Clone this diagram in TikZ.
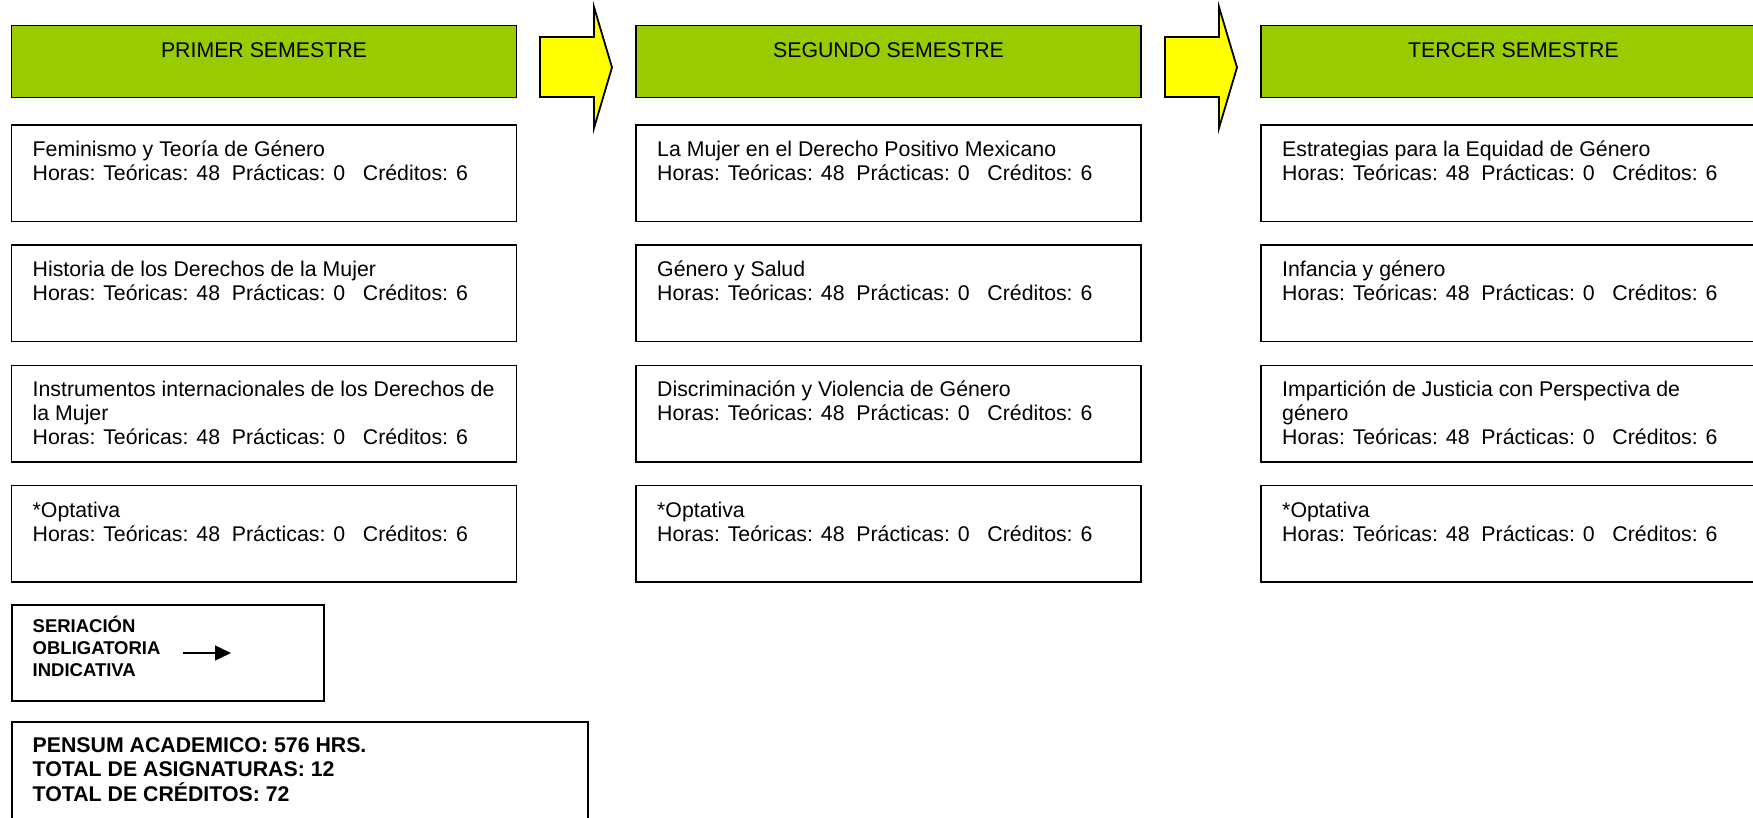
\documentclass[tikz,border=0pt]{standalone}
\usepackage{fontspec}
\setmainfont{Liberation Sans}
\usetikzlibrary{arrows.meta}
\definecolor{hdrgreen}{HTML}{99CC00}
\definecolor{arryellow}{HTML}{FFFF00}
\newcommand\rowsof[2]{\vtop{\baselineskip=#1\lineskiplimit=-30pt\halign{##\hfil\cr#2\crcr}}}
\newcommand\hrsline{Horas: Teóricas: 48\ \ Prácticas: 0\ \ \ Créditos: 6}
\begin{document}
\begin{tikzpicture}[x=1pt,y=-1pt,
  hdr/.style={draw=black, line width=1.8pt, fill=hdrgreen, minimum width=505pt, minimum height=72pt, anchor=north west, inner sep=0pt, outer sep=0pt},
  cbox/.style={draw=black, line width=1.8pt, fill=white, minimum width=505pt, minimum height=96.5pt, anchor=north west, inner sep=0pt, outer sep=0pt},
  ttl/.style={anchor=base, inner sep=0pt, font=\fontsize{21.3}{24}\selectfont},
  txt/.style={anchor=base west, inner sep=0pt, font=\fontsize{21.3}{24}\selectfont},
  legtxt/.style={anchor=base west, inner sep=0pt, font=\fontsize{18.5}{22}\selectfont\bfseries},
  sumtxt/.style={anchor=base west, inner sep=0pt, font=\fontsize{21.3}{24.5}\selectfont\bfseries},
  semarrow/.style={draw=black, line width=1.8pt, fill=arryellow, line join=miter},
  plainbox/.style={draw=black, line width=1.8pt, fill=white, anchor=north west, inner sep=0pt, outer sep=0pt}]
\useasboundingbox (0,0) rectangle (1753,818);
\clip (0,0) rectangle (1753,818);
\fill[white] (0,0) rectangle (1753,818);

% headers
\node[hdr] (h1) at (11.5,25.5) {};
\node[hdr] (h2) at (636,25.5) {};
\node[hdr] (h3) at (1261,25.5) {};
\node[ttl] (h1t) at (264,57.4) {PRIMER SEMESTRE};
\node[ttl] (h2t) at (888.5,57.4) {SEGUNDO SEMESTRE};
\node[ttl] (h3t) at (1513.5,57.4) {TERCER SEMESTRE};

% semester arrows
\draw[semarrow] (540,37) -- (594,37) -- (594,7) -- (612,67.5) -- (594,128) -- (594,97) -- (540,97) -- cycle;
\draw[semarrow] (1165,37) -- (1219,37) -- (1219,7) -- (1237,67.5) -- (1219,128) -- (1219,97) -- (1165,97) -- cycle;

% first semester
\node[cbox] (a1) at (11.5,125) {};
\node[cbox] (a2) at (11.5,245) {};
\node[cbox] (a3) at (11.5,365.5) {};
\node[cbox] (a4) at (11.5,485.5) {};
\node[txt] (a1t) at (32.5,157) {\rowsof{24pt}{Feminismo y Teoría de Género\cr \hrsline}};
\node[txt] (a2t) at (32.5,277) {\rowsof{24pt}{Historia de los Derechos de la Mujer\cr \hrsline}};
\node[txt] (a3t) at (32.5,396.5) {\rowsof{24pt}{Instrumentos internacionales de los Derechos de\cr la Mujer\cr \hrsline}};
\node[txt] (a4t) at (32.5,517) {\rowsof{24pt}{*Optativa\cr \hrsline}};

% second semester
\node[cbox] (b1) at (636,125) {};
\node[cbox] (b2) at (636,245) {};
\node[cbox] (b3) at (636,365.5) {};
\node[cbox] (b4) at (636,485.5) {};
\node[txt] (b1t) at (657,157) {\rowsof{24pt}{La Mujer en el Derecho Positivo Mexicano\cr \hrsline}};
\node[txt] (b2t) at (657,277) {\rowsof{24pt}{Género y Salud\cr \hrsline}};
\node[txt] (b3t) at (657,396.5) {\rowsof{24pt}{Discriminación y Violencia de Género\cr \hrsline}};
\node[txt] (b4t) at (657,517) {\rowsof{24pt}{*Optativa\cr \hrsline}};

% third semester
\node[cbox] (c1) at (1261,125) {};
\node[cbox] (c2) at (1261,245) {};
\node[cbox] (c3) at (1261,365.5) {};
\node[cbox] (c4) at (1261,485.5) {};
\node[txt] (c1t) at (1282,157) {\rowsof{24pt}{Estrategias para la Equidad de Género\cr \hrsline}};
\node[txt] (c2t) at (1282,277) {\rowsof{24pt}{Infancia y género\cr \hrsline}};
\node[txt] (c3t) at (1282,396.5) {\rowsof{24pt}{Impartición de Justicia con Perspectiva de\cr género\cr \hrsline}};
\node[txt] (c4t) at (1282,517) {\rowsof{24pt}{*Optativa\cr \hrsline}};

% legend
\node[plainbox, minimum width=312pt, minimum height=96pt] (leg) at (12,605) {};
\node[legtxt] (legt) at (32.5,632) {\rowsof{22pt}{SERIACIÓN\cr OBLIGATORIA\cr INDICATIVA}};
\coordinate (la1) at (183,653);
\coordinate (la2) at (231,653);
\draw[line width=1.4pt, -{Triangle[length=16pt,width=15pt]}] (la1) -- (la2);

% summary
\node[plainbox, minimum width=576pt, minimum height=120pt] (sum) at (12,722) {};
\node[sumtxt] (sumt) at (32.5,752) {\rowsof{24.5pt}{PENSUM ACADEMICO: 576 HRS.\cr TOTAL DE ASIGNATURAS: 12\cr TOTAL DE CRÉDITOS: 72}};
\end{tikzpicture}
\end{document}
